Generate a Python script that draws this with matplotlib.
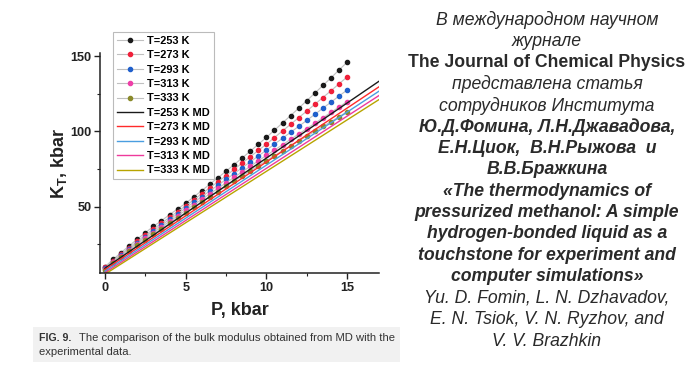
import matplotlib
matplotlib.use("Agg")
import matplotlib.pyplot as plt
from matplotlib.patches import Rectangle

plt.rcParams['font.family'] = ['Liberation Sans', 'DejaVu Sans']
plt.rcParams['mathtext.fontset'] = 'custom'
plt.rcParams['mathtext.rm'] = 'Liberation Sans'
plt.rcParams['mathtext.bf'] = 'Liberation Sans:bold'

# experimental data, P in kbar
P = [0, 0.5, 1, 1.5, 2, 2.5, 3, 3.5, 4, 4.5, 5, 5.5, 6, 6.5, 7, 7.5,
     8, 8.5, 9, 9.5, 10, 10.5, 11, 11.5, 12, 12.5, 13, 13.5, 14, 14.5, 15]
K253 = [10.0, 14.8, 19.4, 23.9, 28.3, 32.6, 36.8, 40.6, 44.6, 48.4, 52.2,
        56.4, 60.6, 64.9, 69.2, 73.5, 77.9, 82.3, 86.8, 91.4, 96.0,
        100.8, 105.6, 110.5, 115.4, 120.4, 125.4, 130.5, 135.6, 140.8, 146.0]
K273 = [9.5, 14.0, 18.4, 22.7, 26.9, 31.0, 35.0, 38.9, 42.8, 46.7, 50.5,
        54.5, 58.5, 62.5, 66.5, 70.5, 74.7, 78.9, 83.1, 87.3, 91.5,
        95.9, 100.3, 104.7, 109.1, 113.5, 118.0, 122.5, 127.0, 131.6, 136.2]
K293 = [9.0, 13.4, 17.7, 21.8, 25.9, 30.0, 33.8, 37.6, 41.4, 45.2, 49.0,
        52.8, 56.6, 60.4, 64.2, 68.0, 71.9, 75.8, 79.7, 83.6, 87.5,
        91.5, 95.4, 99.4, 103.3, 107.3, 111.3, 115.4, 119.4, 123.5, 127.5]
K313 = [8.5, 12.8, 17.0, 21.0, 25.0, 29.0, 32.7, 36.4, 40.1, 43.8, 47.5,
        51.2, 54.8, 58.5, 62.1, 65.8, 69.4, 73.1, 76.7, 80.4, 84.0,
        87.6, 91.1, 94.7, 98.2, 101.8, 105.4, 109.0, 112.6, 116.2, 119.8]
K333 = [8.0, 12.2, 16.3, 20.3, 24.2, 28.0, 31.6, 35.2, 38.8, 42.4, 46.0,
        49.5, 53.0, 56.5, 60.0, 63.5, 66.9, 70.3, 73.7, 77.1, 80.5,
        83.8, 87.0, 90.3, 93.5, 96.8, 100.0, 103.3, 106.5, 109.8, 113.0]

# MD lines (straight), ends at P=0 and P=17
P_md = [0, 17]
MD253 = [9.0, 133.5]
MD273 = [8.0, 129.8]
MD293 = [7.0, 126.9]
MD313 = [6.0, 124.0]
MD333 = [5.0, 121.3]

labels = ['T=253 K', 'T=273 K', 'T=293 K', 'T=313 K', 'T=333 K']
exp_series = [K253, K273, K293, K313, K333]
md_series = [MD253, MD273, MD293, MD313, MD333]
dot_colors = ['#1a1a1a', '#f0203a', '#2060cc', '#ee3fa8', '#8a8a2a']
md_colors = ['#1a1a1a', '#ff2a2a', '#4a9ee0', '#ee3a9c', '#b8a400']

fig = plt.figure(figsize=(7, 3.77), dpi=100)
ax = fig.add_axes([0.143, 0.275, 0.399, 0.584])

for k, c, lab in zip(exp_series, dot_colors, labels):
    ax.plot(P, k, '-', color='#c0c0c0', lw=0.8, marker='o', ms=3.0,
            mfc=c, mec=c, label=lab)
for k, c, lab in zip(md_series, md_colors, labels):
    ax.plot(P_md, k, '-', color=c, lw=1.0, label=lab + ' MD')

ax.set_xlim(-0.3, 17)
ax.set_ylim(5.6, 152)
ax.set_xticks([0, 5, 10, 15])
ax.set_xticks([2.5, 7.5, 12.5], minor=True)
ax.set_yticks([50, 100, 150])
ax.set_yticks([25, 75, 125], minor=True)
ax.spines['top'].set_visible(False)
ax.spines['right'].set_visible(False)
for s in ['left', 'bottom']:
    ax.spines[s].set_linewidth(1.1)
    ax.spines[s].set_color('#222222')
ax.tick_params(which='major', direction='out', length=4, width=1, colors='#222222', pad=2)
ax.tick_params(which='minor', direction='out', length=2, width=0.8, colors='#222222')
for t in ax.get_xticklabels() + ax.get_yticklabels():
    t.set_fontweight('bold')
    t.set_fontsize(9.2)

ax.set_xlabel('P, kbar', fontsize=13, fontweight='bold', color='#222222', labelpad=6)
ax.set_ylabel(r'K$_\mathbf{T}$, kbar', fontsize=13, fontweight='bold', color='#222222', labelpad=1)

leg = ax.legend(loc='upper left', bbox_to_anchor=(0.161, 0.915),
                bbox_transform=fig.transFigure, frameon=True, fancybox=False,
                prop={'weight': 'bold', 'size': 7.9}, handlelength=2.4,
                labelspacing=0.4, handletextpad=0.4, borderpad=0.35,
                borderaxespad=0)
leg.get_frame().set_edgecolor('#aaaaaa')
leg.get_frame().set_linewidth(0.8)

# caption strip
fig.patches.append(Rectangle((33 / 700, 1 - 362 / 377), 367 / 700, 35 / 377,
                             transform=fig.transFigure, facecolor='#f1f1f1',
                             edgecolor='none', zorder=0))
fig.text(39 / 700, 1 - 338 / 377, 'FIG. 9.', fontsize=7.6, fontweight='bold',
         color='#333333', va='center')
fig.text(79 / 700, 1 - 338 / 377,
         'The comparison of the bulk modulus obtained from MD with the',
         fontsize=8.1, color='#333333', va='center')
fig.text(39 / 700, 1 - 352 / 377, 'experimental data.', fontsize=8.1,
         color='#333333', va='center')

# text block on the right
lines = [
    ('В международном научном', 'italic', 'normal'),
    ('журнале', 'italic', 'normal'),
    ('The Journal of Chemical Physics', 'normal', 'bold'),
    ('представлена статья', 'italic', 'normal'),
    ('сотрудников Института', 'italic', 'normal'),
    ('Ю.Д.Фомина, Л.Н.Джавадова,', 'italic', 'bold'),
    ('Е.Н.Циок,  В.Н.Рыжова  и', 'italic', 'bold'),
    ('В.В.Бражкина', 'italic', 'bold'),
    ('«The thermodynamics of', 'italic', 'bold'),
    ('pressurized methanol: A simple', 'italic', 'bold'),
    ('hydrogen-bonded liquid as a', 'italic', 'bold'),
    ('touchstone for experiment and', 'italic', 'bold'),
    ('computer simulations»', 'italic', 'bold'),
    ('Yu. D. Fomin, L. N. Dzhavadov,', 'italic', 'normal'),
    ('E. N. Tsiok, V. N. Ryzhov, and', 'italic', 'normal'),
    ('V. V. Brazhkin', 'italic', 'normal'),
]
for i, (txt, st, wt) in enumerate(lines):
    y = 20 + i * 21.4
    fig.text(547 / 700, 1 - y / 377, txt, ha='center', va='center',
             fontsize=12.7, style=st, fontweight=wt, color='#2a2a2a')

fig.savefig('out.png', dpi=100)
